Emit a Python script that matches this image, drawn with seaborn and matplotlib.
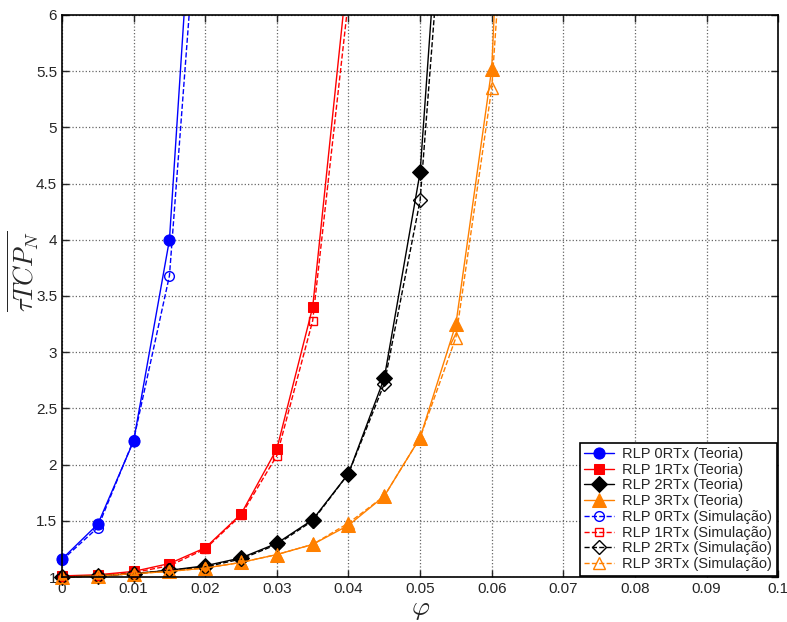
import numpy as np
import pandas as pd
import seaborn as sns
import matplotlib.pyplot as plt
from matplotlib.transforms import Bbox, TransformedBbox

# phi values
phi_0 = [0.0, 0.005, 0.01, 0.015, 0.02]
phi_1 = [0.0, 0.005, 0.01, 0.015, 0.02, 0.025, 0.03, 0.035, 0.04]
phi_2 = [0.0, 0.005, 0.01, 0.015, 0.02, 0.025, 0.03, 0.035, 0.04, 0.045, 0.05, 0.055]
phi_3 = [0.0, 0.005, 0.01, 0.015, 0.02, 0.025, 0.03, 0.035, 0.04, 0.045, 0.05, 0.055, 0.06, 0.065]

# teoria
teo_0 = [1.16, 1.47, 2.21, 4.00, 8.9]
teo_1 = [1.01, 1.02, 1.05, 1.12, 1.26, 1.56, 2.14, 3.40, 6.46]
teo_2 = [1.00, 1.01, 1.03, 1.06, 1.10, 1.17, 1.30, 1.51, 1.92, 2.77, 4.60, 9.1]
teo_3 = [1.00, 1.01, 1.03, 1.05, 1.08, 1.13, 1.20, 1.29, 1.46, 1.72, 2.24, 3.25, 5.52, 12.6]

# simulacao
sim_0 = [1.15, 1.44, 2.22, 3.68, 7.9]
sim_1 = [1.00, 1.01, 1.04, 1.10, 1.25, 1.55, 2.08, 3.28, 6.14]
sim_2 = [1.00, 1.01, 1.03, 1.06, 1.09, 1.16, 1.29, 1.50, 1.92, 2.72, 4.35, 8.5]
sim_3 = [1.00, 1.01, 1.03, 1.05, 1.08, 1.13, 1.20, 1.29, 1.48, 1.72, 2.24, 3.13, 5.35, 10.0]

labels = ['RLP 0RTx', 'RLP 1RTx', 'RLP 2RTx', 'RLP 3RTx']
colors = ['#0000ff', '#ff0000', '#000000', '#ff8000']
markers = ['o', 's', 'D', '^']
msize = [8, 7, 8, 10]

sns.set_style('ticks')
plt.rcParams['font.family'] = ['Liberation Sans', 'DejaVu Sans']
plt.rcParams['mathtext.fontset'] = 'cm'

fig = plt.figure(figsize=(7.87, 6.22), dpi=100)
ax = fig.add_axes([0.0788, 0.0723, 0.91, 0.9037])

phis = [phi_0, phi_1, phi_2, phi_3]
teos = [teo_0, teo_1, teo_2, teo_3]
sims = [sim_0, sim_1, sim_2, sim_3]

for i in range(4):
    sns.lineplot(x=phis[i], y=teos[i], ax=ax, color=colors[i], marker=markers[i],
                 markersize=msize[i], markeredgecolor=colors[i], markerfacecolor=colors[i],
                 linewidth=1, label=labels[i] + ' (Teoria)')
for i in range(4):
    sns.lineplot(x=phis[i], y=sims[i], ax=ax, color=colors[i], marker=markers[i],
                 markersize=msize[i] - 1, markeredgecolor=colors[i], markerfacecolor='none',
                 markeredgewidth=1, linewidth=1, linestyle='--', dashes=(7, 3),
                 label=labels[i] + ' (Simula\u00e7\u00e3o)')

# clip only at the top, let markers spill over the other edges (like matlab)
clip = TransformedBbox(Bbox([[-0.03, -0.03], [1.03, 1.0]]), ax.transAxes)
for ln in ax.lines:
    ln.set_clip_box(clip)

ax.set_xlim(0, 0.1)
ax.set_ylim(1, 6)
ax.set_xticks(np.arange(0, 0.1001, 0.01))
ax.set_xticklabels(['0', '0.01', '0.02', '0.03', '0.04', '0.05', '0.06', '0.07', '0.08', '0.09', '0.1'])
ax.set_yticks(np.arange(1, 6.01, 0.5))
ax.set_yticklabels(['1', '1.5', '2', '2.5', '3', '3.5', '4', '4.5', '5', '5.5', '6'])
ax.tick_params(direction='in', top=True, right=True, labelsize=11, length=5, width=1)
ax.grid(True, linestyle=':', color='0.4', linewidth=0.9)
for s in ax.spines.values():
    s.set_linewidth(1.2)
    s.set_color('black')

ax.set_xlabel(r'$\varphi$', fontsize=20, labelpad=0)
ax.set_ylabel(r'$\overline{\tau TCP_N}$', fontsize=19)
ax.yaxis.set_label_coords(-0.03, 0.543)

leg = ax.legend(loc='lower right', fontsize=10.5, frameon=True, fancybox=False,
                edgecolor='black', framealpha=1, borderpad=0.3, labelspacing=0.12,
                handlelength=2.0, handletextpad=0.6, borderaxespad=0.1)
leg.get_frame().set_linewidth(1.2)

fig.savefig('out.png', dpi=100)
